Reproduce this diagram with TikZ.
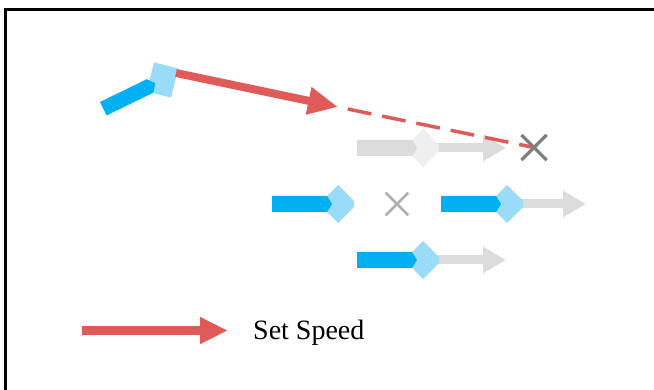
\documentclass[tikz,border=0pt]{standalone}
\usepackage{fontspec}
\setmainfont{Liberation Serif}
\usetikzlibrary{arrows.meta,shapes.misc}
\definecolor{vblue}{HTML}{00B0F0}
\definecolor{lblue}{HTML}{9ADCF8}
\definecolor{sred}{HTML}{E05A5A}
\definecolor{lgray}{HTML}{DCDCDC}
\definecolor{xgray}{HTML}{EFEFEF}
\definecolor{dgray}{HTML}{7F7F7F}
\definecolor{mgray}{HTML}{AFAFAF}
\tikzset{
  bodycol/.store in=\vbody, headcol/.store in=\vhead,
  bodycol=vblue, headcol=lblue,
  vehicle/.pic={
    \fill[fill=\vhead] (-19,0) -- (0,-19) -- (16,-3) -- (16,3) -- (0,19) -- cycle;
    \fill[fill=\vbody] (-66,-8) -- (-11,-8) -- (-6,0) -- (-11,8) -- (-66,8) -- cycle;
  },
  garrow/.style={draw=lgray, line width=9pt, -{Triangle[length=23pt,width=25pt]}},
  redarrow/.style={draw=sred, line width=8pt, -{Triangle[length=30pt,width=26pt]}},
  legarrow/.style={draw=sred, line width=9pt, -{Triangle[length=28pt,width=25pt]}},
  reddash/.style={draw=sred, line width=3.5pt, dash pattern=on 24pt off 11pt, dash phase=25pt},
  xmark/.style={cross out, draw=#1, inner sep=0pt, minimum size=22pt, line width=3pt},
  frame/.style={draw=black, line width=2.5pt}
}
\begin{document}
\begin{tikzpicture}[x=1pt,y=-1pt]
\useasboundingbox (0,0) rectangle (654,390);
\fill[white] (0,0) rectangle (654,390);
\draw[frame] (5.7,392) -- (5.7,9.5) -- (656,9.5);

% diamond centres and arrow tips
\coordinate (d1) at (423,148);
\coordinate (d2) at (338,204);
\coordinate (d3) at (507,204);
\coordinate (d4) at (423,260);
\coordinate (t1) at (506,148);
\coordinate (t3) at (586,204);
\coordinate (t4) at (506,260);

% gray intention arrows
\draw[garrow] ([xshift=8pt]d1) -- (t1);
\draw[garrow] ([xshift=8pt]d3) -- (t3);
\draw[garrow] ([xshift=8pt]d4) -- (t4);

% vehicles
\pic[bodycol=lgray, headcol=xgray] at (d1) {vehicle};
\pic at (d2) {vehicle};
\pic at (d3) {vehicle};
\pic at (d4) {vehicle};

% top-left vehicle
\coordinate (h0) at (162.5,80);
\coordinate (b0) at (103.3,108.7);
\begin{scope}[shift={(h0)}, rotate=-14]
  \fill[lblue] (-12.5,-15) rectangle (12.5,15);
\end{scope}
\begin{scope}[shift={(b0)}, rotate=26]
  \fill[vblue] (0,-7.5) -- (52,-7.5) -- (58,0) -- (52,7.5) -- (0,7.5) -- cycle;
\end{scope}

% set-speed arrow and its extension
\coordinate (rs) at (176,73);
\coordinate (rt) at (338,107);
\node[xmark=dgray] (x1) at (534,147.5) {};
\node[xmark=mgray, minimum size=20pt, line width=2.6pt] (x2) at (397,204) {};
\draw[redarrow] (rs) -- (rt);
\draw[reddash] (rt) -- (x1.center);
\node[xmark=dgray] at (x1.center) {};

% legend
\coordinate (ls) at (82,330.5);
\coordinate (le) at (228,330.5);
\draw[legarrow] (ls) -- (le);
\node[anchor=base west, inner sep=0pt, font=\fontsize{28}{34}\selectfont] (lt) at (253,339.5) {Set Speed};
\end{tikzpicture}
\end{document}
